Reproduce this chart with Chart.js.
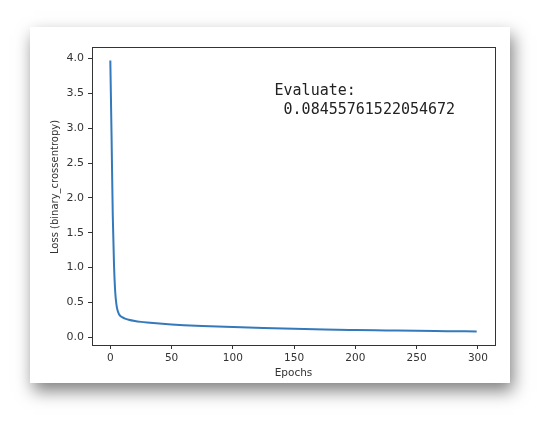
<!DOCTYPE html>
<html>
<head>
<meta charset="utf-8">
<script src="https://cdn.jsdelivr.net/npm/chart.js@4"></script>
<style>
  html, body { margin: 0; background: #fff; }
  .card {
    position: absolute; left: 30px; top: 27px; width: 480px; height: 356px;
    background: #fff;
    box-shadow: 3px 8px 16px rgba(0,0,0,0.5);
  }
  canvas { display: block; }
</style>
</head>
<body>
<div class="card"><canvas id="lossChart" width="480" height="356"></canvas></div>
<script>
  // loss readings taken off the training curve
  const epochs = [0, 1, 2, 3, 4, 5, 6, 7, 8, 10, 12, 15, 20, 25, 30, 40, 50, 60, 75, 100, 125, 150, 175, 200, 225, 250, 275, 299];
  const loss = [3.97, 2.9, 1.75, 1.05, 0.65, 0.47, 0.38, 0.335, 0.31, 0.285, 0.268, 0.252, 0.234, 0.222, 0.213, 0.198, 0.185, 0.175, 0.163, 0.148, 0.134, 0.122, 0.112, 0.105, 0.099, 0.093, 0.089, 0.0846];

  const xTicks = [0, 50, 100, 150, 200, 250, 300];
  const yTicks = [0, 0.5, 1.0, 1.5, 2.0, 2.5, 3.0, 3.5, 4.0];

  const yTitle = "Loss (binary_crossentropy)";
  const xTitle = "Epochs";
  const evalLines = ["Evaluate:", " 0.08455761522054672"];

  const axisColor = "#333";

  const frame = {
    id: "frame",
    afterDraw(chart) {
      const { ctx, chartArea: a } = chart;
      ctx.save();
      ctx.strokeStyle = axisColor;
      ctx.lineWidth = 1;
      ctx.strokeRect(Math.round(a.left) + 0.5, Math.round(a.top) + 0.5,
        Math.round(a.right - a.left), Math.round(a.bottom - a.top));

      // y axis label, sits a little above the axes centre like the original
      ctx.translate(25, 160);
      ctx.rotate(-Math.PI / 2);
      ctx.font = '10px "DejaVu Sans"';
      ctx.fillStyle = axisColor;
      ctx.textAlign = "center";
      ctx.textBaseline = "middle";
      ctx.fillText(yTitle, 0, 0);
      ctx.restore();
    },
  };

  const evalText = {
    id: "evalText",
    afterDatasetsDraw(chart) {
      const { ctx, scales } = chart;
      // anchored in data coords, baseline of the last line
      const px = scales.x.getPixelForValue(134);
      const py = scales.y.getPixelForValue(3.2);
      ctx.save();
      ctx.font = '15px "DejaVu Sans Mono"';
      ctx.fillStyle = "#222";
      ctx.textAlign = "left";
      ctx.textBaseline = "alphabetic";
      const lh = 19;
      evalLines.forEach((line, i) => {
        ctx.fillText(line, px, py - (evalLines.length - 1 - i) * lh);
      });
      ctx.restore();
    },
  };

  const ctx = document.getElementById("lossChart").getContext("2d");
  new Chart(ctx, {
    type: "line",
    data: {
      datasets: [
        {
          data: epochs.map((e, i) => ({ x: e, y: loss[i] })),
          borderColor: "#3479bb",
          borderWidth: 2,
          pointRadius: 0,
          fill: false,
          cubicInterpolationMode: "monotone",
        },
      ],
    },
    options: {
      responsive: false,
      animation: false,
      layout: { padding: { top: 20, right: 15, left: 0, bottom: 0 } },
      plugins: { legend: { display: false }, tooltip: { enabled: false } },
      scales: {
        x: {
          type: "linear",
          min: -14.95,
          max: 313.95,
          afterFit: (s) => { s.height = 38; },
          afterBuildTicks: (s) => { s.ticks = xTicks.map((v) => ({ value: v })); },
          border: { display: false },
          grid: { drawOnChartArea: false, drawTicks: true, tickLength: 4, color: axisColor },
          ticks: { color: axisColor, font: { family: "DejaVu Sans", size: 10.5 }, padding: 3, maxRotation: 0, callback: (v) => String(v) },
          title: { display: true, text: xTitle, color: axisColor, font: { family: "DejaVu Sans", size: 10.5 }, padding: { top: 0, bottom: 3 } },
        },
        y: {
          type: "linear",
          min: -0.1097,
          max: 4.164,
          afterFit: (s) => { s.width = 62; },
          afterBuildTicks: (s) => { s.ticks = yTicks.map((v) => ({ value: v })); },
          border: { display: false },
          grid: { drawOnChartArea: false, drawTicks: true, tickLength: 4, color: axisColor },
          ticks: { color: axisColor, font: { family: "DejaVu Sans", size: 11 }, padding: 4, callback: (v) => Number(v).toFixed(1) },
        },
      },
    },
    plugins: [frame, evalText],
  });
</script>
</body>
</html>
